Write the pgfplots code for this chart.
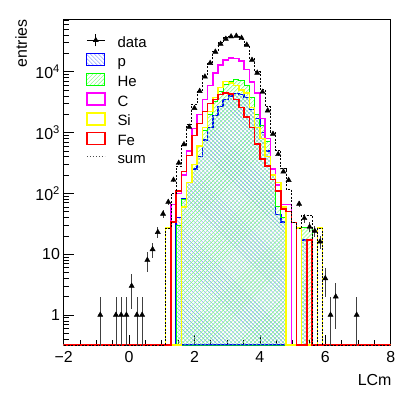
\documentclass[border=0pt]{standalone}
\usepackage{fontspec}
\setmainfont{Liberation Sans}
\usepackage{pgfplots}
\pgfplotsset{compat=1.18}
\usepackage{pgfplotstable}
\usetikzlibrary{patterns}
\definecolor{rblue}{RGB}{0,0,255}
\definecolor{rgreen}{RGB}{0,255,0}
\definecolor{rmag}{RGB}{255,0,255}
\definecolor{ryel}{RGB}{255,255,0}
\definecolor{rred}{RGB}{255,0,0}
\definecolor{hblue}{RGB}{120,150,255}
\definecolor{hgreen}{RGB}{120,255,120}
\pgfdeclarepatternformonly{hnw}{\pgfqpoint{-1pt}{-1pt}}{\pgfqpoint{5pt}{5pt}}{\pgfqpoint{4pt}{4pt}}{%
  \pgfsetlinewidth{0.45pt}\pgfpathmoveto{\pgfqpoint{-0.1pt}{4.1pt}}\pgfpathlineto{\pgfqpoint{4.1pt}{-0.1pt}}\pgfusepath{stroke}}
\pgfdeclarepatternformonly{hne}{\pgfqpoint{-1pt}{-1pt}}{\pgfqpoint{5pt}{5pt}}{\pgfqpoint{4pt}{4pt}}{%
  \pgfsetlinewidth{0.45pt}\pgfpathmoveto{\pgfqpoint{-0.1pt}{-0.1pt}}\pgfpathlineto{\pgfqpoint{4.1pt}{4.1pt}}\pgfusepath{stroke}}

% histograms: left bin edge, content (0.32 = empty bin, drawn on the frame bottom)
\pgfplotstableread{
x y
-2.08 0.32
1.44 40
1.60 80
1.76 150
1.92 250
2.08 400
2.24 750
2.40 1200
2.56 1900
2.72 2700
2.88 3500
3.04 4000
3.20 4400
3.36 4200
3.52 3800
3.68 2400
3.84 1700
4.00 1000
4.16 500
4.32 200
4.48 45
4.64 34
4.80 0.32
5.28 17
5.44 0.32
8.10 0.32
}\tabp
\pgfplotstableread{
x y
-2.08 0.32
1.44 30
1.60 80
1.76 150
1.92 300
2.08 600
2.24 1100
2.40 2000
2.56 3200
2.72 4800
2.88 6200
3.04 7000
3.20 7400
3.36 7200
3.52 6000
3.68 3800
3.84 2000
4.00 1300
4.16 700
4.32 200
4.48 60
4.64 40
4.80 0.32
5.28 27
5.44 27
5.60 0.32
8.10 0.32
}\tabhe
\pgfplotstableread{
x y
-2.08 0.32
1.28 65
1.44 100
1.60 200
1.76 500
1.92 1170
2.08 2000
2.24 3500
2.40 6000
2.56 9500
2.72 13000
2.88 15500
3.04 17000
3.20 16500
3.36 15000
3.52 11000
3.68 6800
3.84 4500
4.00 1700
4.16 800
4.32 250
4.48 137
4.64 65
4.80 65
4.96 0.32
8.10 0.32
}\tabc
\pgfplotstableread{
x y
-2.08 0.32
1.12 27
1.28 0.32
1.60 60
1.76 150
1.92 300
2.08 600
2.24 1200
2.40 2200
2.56 3800
2.72 5500
2.88 6900
3.04 6500
3.20 6000
3.36 5000
3.52 4500
3.68 2600
3.84 1200
4.00 800
4.16 400
4.32 200
4.48 150
4.64 60
4.80 0.32
5.12 27
5.28 0.32
5.76 27
5.92 0.32
8.10 0.32
}\tabsi
\pgfplotstableread{
x y
-2.08 0.32
1.28 34
1.44 110
1.60 230
1.76 420
1.92 900
2.08 1400
2.24 2200
2.40 3000
2.56 3500
2.72 4200
2.88 4500
3.04 4300
3.20 3500
3.36 2600
3.52 1800
3.68 1200
3.84 650
4.00 370
4.16 280
4.32 170
4.48 110
4.64 55
4.80 50
4.96 33
5.12 0.32
5.44 17
5.60 0.32
8.10 0.32
}\tabfe
\pgfplotstableread{
x y
-2.08 0.32
1.12 27
1.28 99
1.44 280
1.60 650
1.76 1370
1.92 2920
2.08 5000
2.24 8750
2.40 14400
2.56 21900
2.72 30200
2.88 36600
3.04 38800
3.20 37800
3.36 34000
3.52 27100
3.68 16800
3.84 10050
4.00 5170
4.16 2680
4.32 1020
4.48 502
4.64 254
4.80 115
4.96 33
5.12 27
5.28 44
5.44 44
5.60 0.32
5.76 27
5.92 0.32
8.10 0.32
}\tabsum
% data: bin centre, entries, errors
\pgfplotstableread{
x y ep em
-0.88 1 1 0.99
-0.40 1 1 0.99
-0.24 1 1 0.99
-0.08 1 1 0.99
0.08 3 1.73 1.73
0.24 1 1 0.99
0.40 1 1 0.99
0.56 8 2.83 2.83
0.72 12 3.46 3.46
0.88 23 4.8 4.8
1.04 46 6.8 6.8
1.20 72 8.5 8.5
1.36 166 12.9 12.9
1.52 316 17.8 17.8
1.68 640 25.3 25.3
1.84 1240 35.2 35.2
2.00 2520 50.2 50.2
2.16 4800 69.3 69.3
2.32 8300 91.1 91.1
2.48 13900 118 118
2.64 21300 146 146
2.80 28700 169 169
2.96 34700 186 186
3.12 38000 195 195
3.28 38900 197 197
3.44 36000 190 190
3.60 27700 166 166
3.76 15600 125 125
3.92 9600 98 98
4.08 4650 68 68
4.24 2300 48 48
4.40 950 31 31
4.56 440 21 21
4.72 228 15.1 15.1
4.88 165 12.8 12.8
5.20 67 8.2 8.2
5.36 39 6.2 6.2
5.52 28 5.3 5.3
5.68 24 4.9 4.9
5.84 16 4 4
6.00 4 2 2
6.16 1 1 0.99
6.32 2 1.41 1.41
6.96 1 1 0.99
}\tabdata

\begin{document}
\begin{tikzpicture}
\useasboundingbox (0,0) rectangle (413bp,398bp);
\begin{axis}[
  name=ax,
  at={(63.6bp,53bp)}, anchor=south west,
  scale only axis, width=327.1bp, height=325.7bp,
  xmin=-2, xmax=8, ymin=0.32, ymax=73000, ymode=log,
  axis line style={black, line width=0.8bp},
  tick align=inside, tick pos=left,
  major tick length=10bp, minor tick length=5bp,
  tick style={black, line width=0.6bp},
  xtick={-2,0,2,4,6,8},
  xticklabels={−2,0,2,4,6,8},
  minor x tick num=3,
  ytick={1,10,100,1000,10000},
  yticklabels={1,10,10\textsuperscript{2},10\textsuperscript{3},10\textsuperscript{4}},
  minor ytick={0.4,0.5,0.6,0.7,0.8,0.9,2,3,4,5,6,7,8,9,20,30,40,50,60,70,80,90,200,300,400,500,600,700,800,900,2000,3000,4000,5000,6000,7000,8000,9000,20000,30000,40000,50000,60000,70000},
  ticklabel style={font=\fontsize{16}{19}\selectfont, inner sep=0pt},
  xticklabel style={yshift=-6.5bp},
  yticklabel style={xshift=-3.5bp},
  legend style={at={(axis description cs:0.0685,0.9549)}, anchor=north west,
    draw=none, fill=none, inner sep=0pt, outer sep=0pt,
    font=\fontsize{15}{18}\selectfont, column sep=12bp, row sep=0pt,
    nodes={inner sep=0pt, text height=12bp, text depth=6bp}},
  legend cell align=left,
]
\addlegendimage{legend image code/.code={
  \draw[black, line width=0.6bp] (0bp,4bp)--(18bp,4bp);
  \draw[black, line width=0.6bp] (9bp,-2bp)--(9bp,10bp);
  \fill[black] (9bp,4bp) +(90:3bp) -- +(210:3bp) -- +(330:3bp) -- cycle;}}
\addlegendentry{data}
\addlegendimage{legend image code/.code={
  \draw[rblue, line width=1.2bp, pattern=hnw, pattern color=hblue] (0bp,-2bp) rectangle (18bp,10bp);}}
\addlegendentry{p}
\addlegendimage{legend image code/.code={
  \draw[rgreen, line width=1.2bp, pattern=hne, pattern color=hgreen] (0bp,-2bp) rectangle (18bp,10bp);}}
\addlegendentry{He}
\addlegendimage{legend image code/.code={
  \draw[rmag, line width=1.5bp] (0bp,-2bp) rectangle (18bp,10bp);}}
\addlegendentry{C}
\addlegendimage{legend image code/.code={
  \draw[ryel, line width=1.5bp] (0bp,-2bp) rectangle (18bp,10bp);}}
\addlegendentry{Si}
\addlegendimage{legend image code/.code={
  \draw[rred, line width=1.5bp] (0bp,-2bp) rectangle (18bp,10bp);}}
\addlegendentry{Fe}
\addlegendimage{legend image code/.code={
  \draw[black!70, line width=0.6bp, dash pattern=on 1.5bp off 1.5bp] (0bp,4bp)--(18bp,4bp);}}
\addlegendentry{sum}

\addplot[forget plot, const plot mark left, rblue, line width=1.5bp, pattern=hnw, pattern color=hblue] table[x=x,y=y] {\tabp} -- cycle;
\addplot[forget plot, const plot mark left, rgreen, line width=1bp, pattern=hne, pattern color=hgreen] table[x=x,y=y] {\tabhe} -- cycle;
\addplot[forget plot, const plot mark left, rmag, line width=1.5bp] table[x=x,y=y] {\tabc};
\addplot[forget plot, const plot mark left, ryel, line width=1.5bp] table[x=x,y=y] {\tabsi};
\addplot[forget plot, const plot mark left, rred, line width=1.5bp] table[x=x,y=y] {\tabfe};
\addplot[forget plot, const plot mark left, black, line width=0.7bp, dash pattern=on 2bp off 1.5bp] table[x=x,y=y] {\tabsum};
\addplot[forget plot, only marks, mark=triangle*, mark size=3bp, black,
  error bars/.cd, y dir=both, y explicit, error mark=none,
  error bar style={black!75, line width=0.7bp}]
  table[x=x, y=y, y error plus=ep, y error minus=em] {\tabdata};
\end{axis}
\node[rotate=90, anchor=base east, inner sep=0pt, font=\fontsize{16}{19}\selectfont] at ([xshift=-36.8bp]ax.north west) {entries};
\node[anchor=base east, inner sep=0pt, font=\fontsize{16}{19}\selectfont] at ([xshift=1bp, yshift=-40bp]ax.south east) {LCm};
\end{tikzpicture}
\end{document}
